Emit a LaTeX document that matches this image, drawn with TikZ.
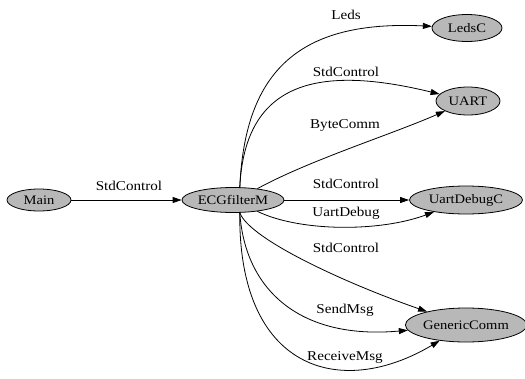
\documentclass[tikz,border=0pt]{standalone}
\usepackage{fontspec}
\setmainfont{Liberation Serif}[FakeStretch=1.12]
\usetikzlibrary{shapes.geometric,arrows.meta}
\tikzset{
  comp/.style={ellipse,draw=black,line width=0.8pt,fill=black!28,inner sep=0pt,
    font=\fontsize{13}{15}\selectfont},
  lbl/.style={inner sep=0pt,font=\fontsize{13.5}{16}\selectfont},
  conn/.style={line width=0.8pt,-{Triangle[length=9pt,width=6pt]}}
}
\begin{document}
\begin{tikzpicture}[x=1pt,y=-1pt]
\useasboundingbox (0,0) rectangle (525,378);
% components
\node[comp,minimum width=64pt,minimum height=22pt] (main) at (39,200) {Main};
\node[comp,minimum width=102pt,minimum height=25pt] (ecg) at (233,200) {ECGfilterM};
\node[comp,minimum width=70pt,minimum height=27pt] (leds) at (467,28) {LedsC};
\node[comp,minimum width=64pt,minimum height=28pt] (uart) at (468,101) {UART};
\node[comp,minimum width=113pt,minimum height=28pt] (udbg) at (466,200) {UartDebugC};
\node[comp,minimum width=116pt,minimum height=34pt] (gcomm) at (466,325) {GenericComm};
% labels
\node[lbl] (l1) at (129,186) {StdControl};
\node[lbl] (l2) at (346,15) {Leds};
\node[lbl] (l3) at (346,72) {StdControl};
\node[lbl] (l4) at (345,125) {ByteComm};
\node[lbl] (l5) at (346,184) {StdControl};
\node[lbl] (l6) at (346,213) {UartDebug};
\node[lbl] (l7) at (346,248) {StdControl};
\node[lbl] (l8) at (345,310) {SendMsg};
\node[lbl] (l9) at (345,357) {ReceiveMsg};
% connectors
\draw[conn] (main) -- (ecg);
\draw[conn] (ecg.62) .. controls (245,70) and (300,20) .. (leds);
\draw[conn] (ecg.62) .. controls (245,80) and (320,65) .. (uart);
\draw[conn] (ecg.25) .. controls (310,160) and (390,135) .. (uart);
\draw[conn] (ecg) -- (udbg);
\draw[conn] (ecg.-25) .. controls (300,232) and (380,232) .. (udbg);
\draw[conn] (ecg.-62) .. controls (250,240) and (350,285) .. (gcomm);
\draw[conn] (ecg.-62) .. controls (245,290) and (300,340) .. (gcomm);
\draw[conn] (ecg.-62) .. controls (238,370) and (340,400) .. (gcomm);
\end{tikzpicture}
\end{document}
